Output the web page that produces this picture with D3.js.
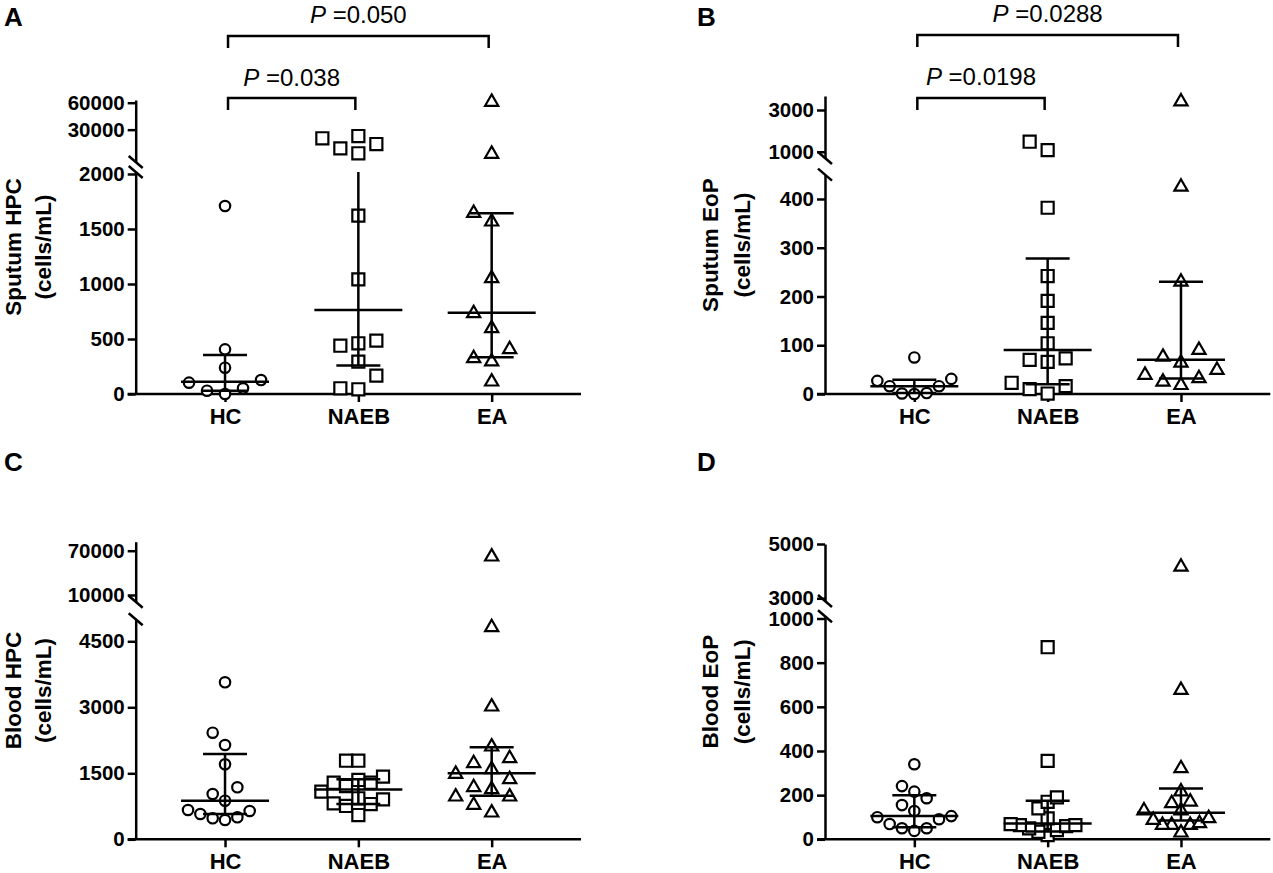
<!DOCTYPE html>
<html>
<head>
<meta charset="utf-8">
<script src="https://cdn.jsdelivr.net/npm/d3@7"></script>
<style>
  body { margin: 0; background: #fff; }
  svg { display: block; }
  text { font-family: "Liberation Sans", Arial, sans-serif; fill: #000; }
</style>
</head>
<body>
<div id="chart"></div>
<script>
var groups = ["HC", "NAEB", "EA"];

// A: sputum HPC (cells/mL)
var sputumHpcHC = [1709, 406, 239, 127, 103, 52, 30, 0];
var sputumHpcNAEB = [22900, 20400, 14000, 9200, 3700, 1621, 1042, 485, 461, 439, 294, 167, 52, 43];
var sputumHpcEA = [60800, 2900, 1645, 1566, 1051, 733, 597, 406, 324, 294, 112];
var sputumHpcMedian = [112, 764, 739];
var sputumHpcQ1 = [30, 258, 335];
var sputumHpcQ3 = [355, 2500, 1642];
var sputumHpcTicksLow = [0, 500, 1000, 1500, 2000];
var sputumHpcTicksHigh = [30000, 60000];

// B: sputum EoP
var sputumEopHC = [75, 31, 27, 16, 16, 2, 1, 0];
var sputumEopNAEB = [1480, 1080, 382, 242, 191, 146, 104, 73, 70, 66, 23, 16, 10, 1];
var sputumEopEA = [3400, 425, 230, 90, 76, 64, 49, 39, 32, 25, 18];
var sputumEopMedian = [16, 90, 70];
var sputumEopQ1 = [2, 20, 32];
var sputumEopQ3 = [29, 278, 230];
var sputumEopTicksLow = [0, 100, 200, 300, 400];
var sputumEopTicksHigh = [1000, 3000];

// C: blood HPC
var bloodHpcHC = [3568, 2423, 2143, 1705, 1182, 1030, 877, 666, 643, 575, 500, 477, 439];
var bloodHpcNAEB = [1786, 1786, 1423, 1348, 1286, 1286, 1211, 1082, 932, 909, 818, 802, 757, 552];
var bloodHpcEA = [61900, 4818, 3014, 2105, 1841, 1727, 1591, 1484, 1364, 1182, 1136, 968, 968, 780, 605];
var bloodHpcMedian = [877, 1130, 1500];
var bloodHpcQ1 = [575, 802, 991];
var bloodHpcQ3 = [1939, 1364, 2090];
var bloodHpcTicksLow = [0, 1500, 3000, 4500];
var bloodHpcTicksHigh = [10000, 70000];

// D: blood EoP
var bloodEopHC = [340, 241, 216, 186, 155, 128, 105, 100, 91, 69, 50, 50, 38];
var bloodEopNAEB = [870, 355, 190, 170, 140, 95, 69, 64, 64, 60, 50, 42, 34, 19];
var bloodEopEA = [4160, 676, 321, 216, 170, 163, 130, 130, 95, 87, 72, 64, 64, 64, 30];
var bloodEopMedian = [105, 72, 120];
var bloodEopQ1 = [55, 35, 85];
var bloodEopQ3 = [200, 175, 230];
var bloodEopTicksLow = [0, 200, 400, 600, 800, 1000];
var bloodEopTicksHigh = [3000, 5000];

var svgWidth = 1273;
var svgHeight = 873;

var svg = d3.select("#chart")
  .append("svg")
  .attr("width", svgWidth)
  .attr("height", svgHeight);

// layout of each panel (pixels) and the two axis segments
var panels = [
  { letter: "A", letterX: 4, letterY: 26, title: ["Sputum HPC", "(cells/mL)"], titleX: [21, 51],
    series: [sputumHpcHC, sputumHpcNAEB, sputumHpcEA],
    median: sputumHpcMedian, q1: sputumHpcQ1, q3: sputumHpcQ3,
    ticksLow: sputumHpcTicksLow, ticksHigh: sputumHpcTicksHigh,
    axisX: 135.7, baseY: 394, lowTop: 172, lowMax: 2018,
    upBottom: 162, upTop: 100, upDomain: [-6000, 63000],
    pvals: [
      { from: 0, to: 1, label: "=0.038", y: 98, textY: 86 },
      { from: 0, to: 2, label: "=0.050", y: 36, textY: 23 }
    ] },
  { letter: "B", letterX: 697, letterY: 26, title: ["Sputum EoP", "(cells/mL)"], titleX: [718, 750],
    series: [sputumEopHC, sputumEopNAEB, sputumEopEA],
    median: sputumEopMedian, q1: sputumEopQ1, q3: sputumEopQ3,
    ticksLow: sputumEopTicksLow, ticksHigh: sputumEopTicksHigh,
    axisX: 825, baseY: 394, lowTop: 174.6, lowMax: 450,
    upBottom: 158, upTop: 96, upDomain: [700, 3670],
    pvals: [
      { from: 0, to: 1, label: "=0.0198", y: 98, textY: 85 },
      { from: 0, to: 2, label: "=0.0288", y: 35, textY: 22 }
    ] },
  { letter: "C", letterX: 4, letterY: 471, title: ["Blood HPC", "(cells/mL)"], titleX: [21, 51],
    series: [bloodHpcHC, bloodHpcNAEB, bloodHpcEA],
    median: bloodHpcMedian, q1: bloodHpcQ1, q3: bloodHpcQ3,
    ticksLow: bloodHpcTicksLow, ticksHigh: bloodHpcTicksHigh,
    axisX: 135.7, baseY: 839.3, lowTop: 619.3, lowMax: 5000,
    upBottom: 601.7, upTop: 541.7, upDomain: [920, 82200],
    pvals: [] },
  { letter: "D", letterX: 697, letterY: 471, title: ["Blood EoP", "(cells/mL)"], titleX: [718, 750],
    series: [bloodEopHC, bloodEopNAEB, bloodEopEA],
    median: bloodEopMedian, q1: bloodEopQ1, q3: bloodEopQ3,
    ticksLow: bloodEopTicksLow, ticksHigh: bloodEopTicksHigh,
    axisX: 825, baseY: 839.3, lowTop: 616.3, lowMax: 1010,
    upBottom: 601, upTop: 544, upDomain: [2900, 5000],
    pvals: [] }
];

var symbolTypes = [d3.symbolCircle, d3.symbolSquare, d3.symbolTriangle];
var symbolSizes = [85, 145, 75];
var lineW = 2.5;

// spread points sideways when they overlap (scatter dot plot style)
function swarm(values, yOf, cx) {
  var pts = values.map(v => ({ v: v, y: yOf(v) }))
    .sort((a, b) => b.y - a.y);
  var placed = [];
  pts.forEach(p => {
    for (var k = 0; ; k++) {
      var slot = k === 0 ? 0 : (k % 2 ? -Math.ceil(k / 2) : k / 2);
      var hit = placed.some(q => q.slot === slot && Math.abs(q.y - p.y) < 16);
      if (!hit) { p.slot = slot; break; }
    }
    placed.push(p);
  });
  var maxSlot = d3.max(placed, p => Math.abs(p.slot)) || 1;
  var step = Math.min(18, 37 / maxSlot);
  placed.forEach(p => { p.x = cx + p.slot * step; });
  return placed;
}

panels.forEach(function(pn) {
  var g = svg.append("g");

  var x = d3.scalePoint()
    .domain(groups)
    .range([pn.axisX, pn.axisX + 445.3])
    .padding(0.67);

  var yLow = d3.scaleLinear().domain([0, pn.lowMax]).range([pn.baseY, pn.lowTop]);
  var yUp = d3.scaleLinear().domain(pn.upDomain).range([pn.upBottom, pn.upTop]);
  var yOf = v => (v > pn.lowMax ? yUp(v) : yLow(v));

  // y axis, two segments
  var lowAxis = g.append("g")
    .attr("transform", `translate(${pn.axisX},0)`)
    .call(d3.axisLeft(yLow).tickValues(pn.ticksLow).tickSize(8).tickSizeOuter(0)
      .tickPadding(3).tickFormat(d3.format("d")));
  var upAxis = g.append("g")
    .attr("transform", `translate(${pn.axisX},0)`)
    .call(d3.axisLeft(yUp).tickValues(pn.ticksHigh).tickSize(8).tickSizeOuter(0)
      .tickPadding(3).tickFormat(d3.format("d")));

  // x axis
  var xAxis = g.append("g")
    .attr("transform", `translate(0,${pn.baseY})`)
    .call(d3.axisBottom(x).tickSize(8).tickSizeOuter(0).tickPadding(6));
  xAxis.select(".domain").attr("d", `M${pn.axisX - 8},0H${pn.axisX + 445.3}`);

  [lowAxis, upAxis, xAxis].forEach(function(ax) {
    ax.selectAll("path, line").attr("stroke", "#000").attr("stroke-width", lineW);
    ax.selectAll("text").style("font-size", "20.5px").style("font-weight", "bold");
  });
  xAxis.selectAll("text").style("font-size", "22px");

  // axis break marks
  [pn.upBottom, pn.lowTop].forEach(function(yb) {
    g.append("line")
      .attr("x1", pn.axisX - 7).attr("y1", yb - 6)
      .attr("x2", pn.axisX + 7).attr("y2", yb + 6)
      .attr("stroke", "#000").attr("stroke-width", lineW);
  });

  // points
  pn.series.forEach(function(vals, i) {
    var pts = swarm(vals, yOf, x(groups[i]));
    g.selectAll(null)
      .data(pts)
      .enter()
      .append("path")
      .attr("d", d3.symbol().type(symbolTypes[i]).size(symbolSizes[i]))
      .attr("transform", d => `translate(${d.x},${d.y})`)
      .attr("fill", "#fff")
      .attr("stroke", "#000")
      .attr("stroke-width", 2.2);
  });

  // median with interquartile range
  groups.forEach(function(grp, i) {
    var cx = x(grp);
    var top = pn.q3[i] > pn.lowMax ? yLow(pn.lowMax) : yLow(pn.q3[i]);
    g.append("line")
      .attr("x1", cx).attr("x2", cx)
      .attr("y1", yLow(pn.q1[i])).attr("y2", top)
      .attr("stroke", "#000").attr("stroke-width", lineW);
    g.append("line")
      .attr("x1", cx - 44).attr("x2", cx + 44)
      .attr("y1", yLow(pn.median[i])).attr("y2", yLow(pn.median[i]))
      .attr("stroke", "#000").attr("stroke-width", lineW);
    var caps = [pn.q1[i]];
    if (pn.q3[i] <= pn.lowMax) caps.push(pn.q3[i]);
    caps.forEach(function(c) {
      g.append("line")
        .attr("x1", cx - 22).attr("x2", cx + 22)
        .attr("y1", yLow(c)).attr("y2", yLow(c))
        .attr("stroke", "#000").attr("stroke-width", lineW);
    });
  });

  // significance brackets
  pn.pvals.forEach(function(p) {
    var x1 = x(groups[p.from]) + 3;
    var x2 = x(groups[p.to]) - 3;
    g.append("path")
      .attr("d", `M${x1},${p.y + 12}V${p.y}H${x2}V${p.y + 12}`)
      .attr("fill", "none")
      .attr("stroke", "#000")
      .attr("stroke-width", lineW);
    var t = g.append("text")
      .attr("x", (x1 + x2) / 2)
      .attr("y", p.textY)
      .attr("text-anchor", "middle")
      .style("font-size", "24px");
    t.append("tspan").style("font-style", "italic").text("P");
    t.append("tspan").text(" " + p.label);
  });

  // y axis title
  var midY = (pn.baseY + pn.upTop) / 2;
  pn.title.forEach(function(line, k) {
    g.append("text")
      .attr("transform", `translate(${pn.titleX[k]},${midY}) rotate(-90)`)
      .attr("text-anchor", "middle")
      .style("font-size", "22.5px")
      .style("font-weight", "bold")
      .text(line);
  });

  // panel letter
  g.append("text")
    .attr("x", pn.letterX)
    .attr("y", pn.letterY)
    .style("font-size", "26px")
    .style("font-weight", "bold")
    .text(pn.letter);
});
</script>
</body>
</html>
